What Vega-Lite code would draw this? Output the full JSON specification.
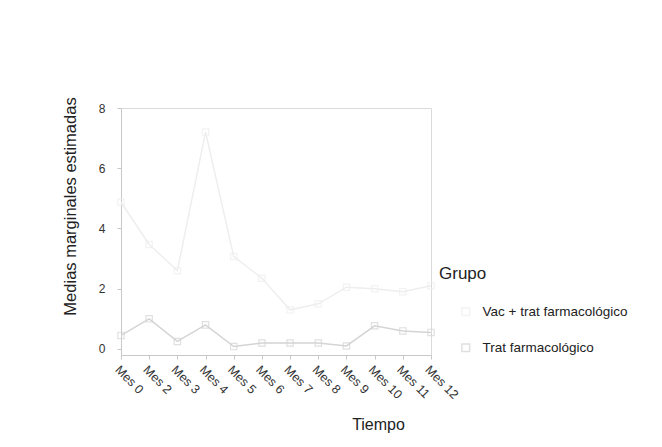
{
  "$schema": "https://vega.github.io/schema/vega-lite/v6.json",
  "autosize": "none",
  "width": 310,
  "height": 247,
  "padding": {"left": 121, "top": 108, "right": 231, "bottom": 92},
  "background": "white",
  "config": {
    "font": "Liberation Sans",
    "view": {"stroke": "#dadada", "strokeWidth": 1},
    "axis": {
      "labelFont": "Liberation Sans",
      "titleFont": "Liberation Sans",
      "labelColor": "#333333",
      "titleColor": "#222222",
      "titleFontWeight": "normal",
      "domainColor": "#c8c8c8",
      "tickColor": "#c8c8c8",
      "grid": false
    }
  },
  "data": {
    "values": [
      {"mes": "Mes 0", "grupo": "Trat farmacológico", "media": 0.45},
      {"mes": "Mes 2", "grupo": "Trat farmacológico", "media": 1.0},
      {"mes": "Mes 3", "grupo": "Trat farmacológico", "media": 0.25},
      {"mes": "Mes 4", "grupo": "Trat farmacológico", "media": 0.8},
      {"mes": "Mes 5", "grupo": "Trat farmacológico", "media": 0.08},
      {"mes": "Mes 6", "grupo": "Trat farmacológico", "media": 0.2},
      {"mes": "Mes 7", "grupo": "Trat farmacológico", "media": 0.2},
      {"mes": "Mes 8", "grupo": "Trat farmacológico", "media": 0.2},
      {"mes": "Mes 9", "grupo": "Trat farmacológico", "media": 0.1},
      {"mes": "Mes 10", "grupo": "Trat farmacológico", "media": 0.77},
      {"mes": "Mes 11", "grupo": "Trat farmacológico", "media": 0.6},
      {"mes": "Mes 12", "grupo": "Trat farmacológico", "media": 0.55},
      {"mes": "Mes 0", "grupo": "Vac + trat farmacológico", "media": 4.87},
      {"mes": "Mes 2", "grupo": "Vac + trat farmacológico", "media": 3.47},
      {"mes": "Mes 3", "grupo": "Vac + trat farmacológico", "media": 2.6},
      {"mes": "Mes 4", "grupo": "Vac + trat farmacológico", "media": 7.2},
      {"mes": "Mes 5", "grupo": "Vac + trat farmacológico", "media": 3.07},
      {"mes": "Mes 6", "grupo": "Vac + trat farmacológico", "media": 2.35},
      {"mes": "Mes 7", "grupo": "Vac + trat farmacológico", "media": 1.3},
      {"mes": "Mes 8", "grupo": "Vac + trat farmacológico", "media": 1.5},
      {"mes": "Mes 9", "grupo": "Vac + trat farmacológico", "media": 2.05},
      {"mes": "Mes 10", "grupo": "Vac + trat farmacológico", "media": 2.0},
      {"mes": "Mes 11", "grupo": "Vac + trat farmacológico", "media": 1.9},
      {"mes": "Mes 12", "grupo": "Vac + trat farmacológico", "media": 2.1}
    ]
  },
  "encoding": {
    "x": {
      "field": "mes",
      "type": "ordinal",
      "sort": ["Mes 0", "Mes 2", "Mes 3", "Mes 4", "Mes 5", "Mes 6", "Mes 7", "Mes 8", "Mes 9", "Mes 10", "Mes 11", "Mes 12"],
      "scale": {"type": "point", "padding": 0},
      "axis": {
        "title": "Tiempo",
        "titleFontSize": 16,
        "titleX": 257,
        "titleY": 69,
        "titleBaseline": "middle",
        "titleAlign": "center",
        "labelAngle": 45,
        "labelAlign": "left",
        "labelBaseline": "top",
        "labelFontSize": 12.5,
        "labelPadding": 4,
        "tickSize": 4
      }
    },
    "y": {
      "field": "media",
      "type": "quantitative",
      "scale": {"domain": [-0.2, 8], "nice": false, "zero": false},
      "axis": {
        "title": "Medias marginales estimadas",
        "titleFontSize": 16.5,
        "titleX": -51,
        "titleY": 98,
        "titleAngle": -90,
        "titleAlign": "center",
        "titleBaseline": "middle",
        "values": [0, 2, 4, 6, 8],
        "labelFontSize": 12,
        "labelPadding": 12,
        "tickSize": 4
      }
    },
    "color": {
      "field": "grupo",
      "type": "nominal",
      "scale": {
        "domain": ["Vac + trat farmacológico", "Trat farmacológico"],
        "range": ["#eeeeee", "#d4d4d4"]
      },
      "legend": {
        "title": "Grupo",
        "orient": "none",
        "legendX": 318,
        "legendY": 158,
        "titleFontSize": 17,
        "titleFontWeight": "normal",
        "titleColor": "#222222",
        "titlePadding": 22,
        "labelFontSize": 13.5,
        "labelColor": "#222222",
        "labelOffset": 10,
        "symbolOffset": 20,
        "rowPadding": 21,
        "symbolType": "square",
        "symbolSize": 60,
        "symbolFillColor": "white"
      }
    }
  },
  "layer": [
    {"mark": {"type": "line", "strokeWidth": 1.5}},
    {"mark": {"type": "point", "shape": "square", "filled": false, "size": 40, "strokeWidth": 1.2}}
  ]
}
